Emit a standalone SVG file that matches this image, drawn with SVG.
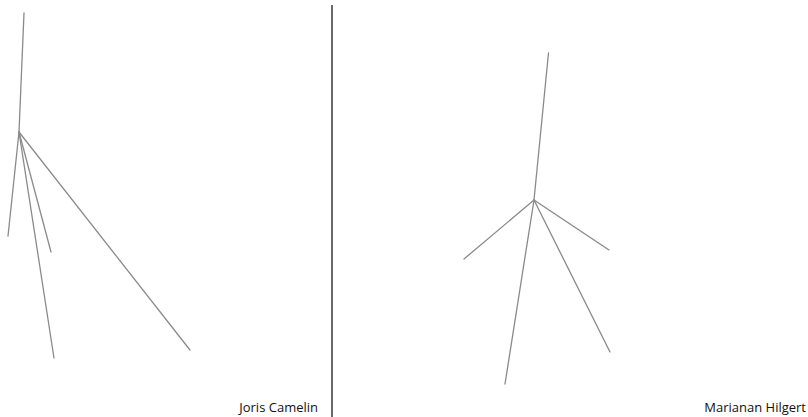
<svg xmlns="http://www.w3.org/2000/svg" width="808" height="417" viewBox="0 0 808 417">
<style>
.br{stroke:#8a8a8a;stroke-width:1.3;fill:none;stroke-linecap:round}
.lbl{font-family:"Open Sans","Liberation Sans",sans-serif;font-size:13px;fill:#111}
</style>
<rect width="808" height="417" fill="#fff"/>
<g id="connectors">
<line x1="332" y1="5" x2="332" y2="417" stroke="#444" stroke-width="1.6"/>
<g id="left-tree">
<line class="br" x1="24" y1="13" x2="19" y2="132"/>
<line class="br" x1="19" y1="132" x2="8" y2="236"/>
<line class="br" x1="19" y1="132" x2="51" y2="252"/>
<line class="br" x1="19" y1="132" x2="54" y2="358"/>
<line class="br" x1="19" y1="132" x2="190" y2="350"/>
</g>
<g id="right-tree">
<line class="br" x1="548.5" y1="53" x2="534" y2="200"/>
<line class="br" x1="534" y1="200" x2="464" y2="259"/>
<line class="br" x1="534" y1="200" x2="609" y2="250"/>
<line class="br" x1="534" y1="200" x2="505" y2="384"/>
<line class="br" x1="534" y1="200" x2="610" y2="352"/>
</g>
</g>
<g id="label-left"><text class="lbl" x="318" y="412" text-anchor="end">Joris Camelin</text></g>
<g id="label-right"><text class="lbl" x="806" y="412" text-anchor="end">Marianan Hilgert</text></g>
</svg>
